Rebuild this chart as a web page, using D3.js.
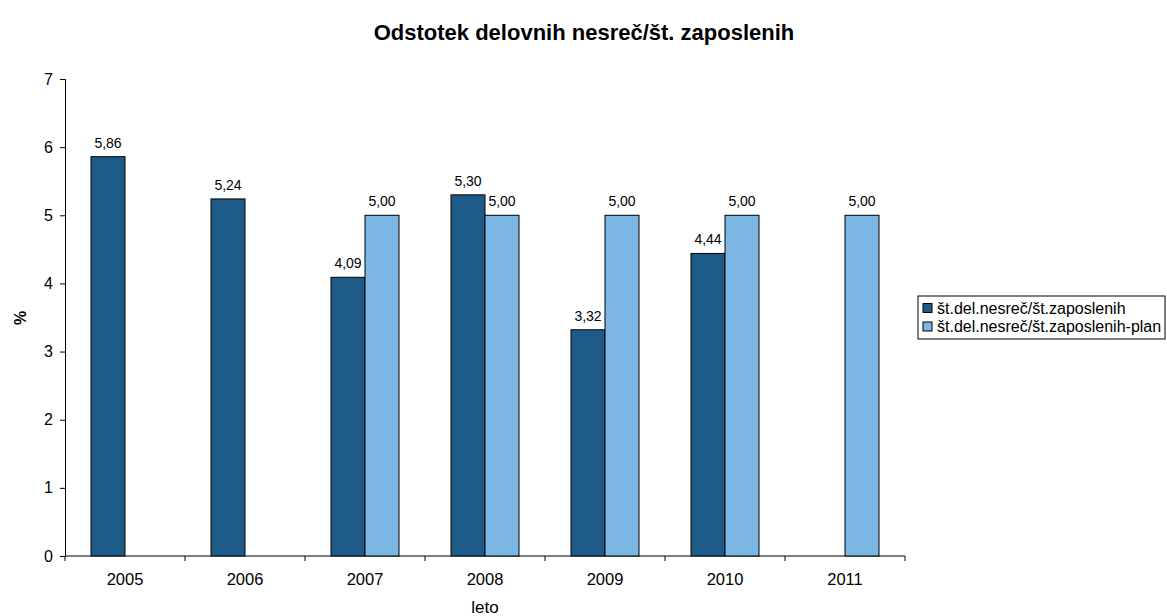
<!DOCTYPE html>
<html>
<head>
<meta charset="utf-8">
<script src="https://cdn.jsdelivr.net/npm/d3@7"></script>
<style>
  body { margin: 0; background: #fff; }
  svg { display: block; font-family: "Liberation Sans", Arial, sans-serif; }
</style>
</head>
<body>
<svg id="chart" width="1167" height="616"></svg>
<script>
// Chart data
const years = ["2005", "2006", "2007", "2008", "2009", "2010", "2011"];
const actual = [5.86, 5.24, 4.09, 5.30, 3.32, 4.44, null];
const plan = [null, null, 5.00, 5.00, 5.00, 5.00, 5.00];
const seriesNames = ["št.del.nesreč/št.zaposlenih", "št.del.nesreč/št.zaposlenih-plan"];
const seriesColors = ["#1f5b89", "#7db7e3"];
const yTicks = [0, 1, 2, 3, 4, 5, 6, 7];

const svg = d3.select("#chart");
const margin = { left: 65, right: 262, top: 79, bottom: 60 };
const W = 1167, H = 616;

const x = d3.scaleBand().domain(years).range([margin.left, W - margin.right]);
const sub = d3.scaleBand().domain([0, 1]).range([0, 68]);
const y = d3.scaleLinear().domain([0, 7]).range([H - margin.bottom, margin.top]);

// Title
svg.append("text")
  .attr("x", 584).attr("y", 40)
  .attr("text-anchor", "middle")
  .attr("font-size", 22).attr("font-weight", "bold")
  .text("Odstotek delovnih nesreč/št. zaposlenih");

// Y axis
const yAxis = svg.append("g")
  .attr("transform", `translate(${margin.left},0)`)
  .call(d3.axisLeft(y).tickValues(yTicks).tickSize(5).tickPadding(7).tickFormat(d3.format("d")));
yAxis.selectAll("text").attr("font-size", 16).attr("font-family", "Liberation Sans, Arial, sans-serif").attr("fill", "#000");
yAxis.selectAll("line, path").attr("stroke", "#000");

// X axis with ticks between categories
const xAxisG = svg.append("g").attr("transform", `translate(0,${y(0)})`);
xAxisG.append("line")
  .attr("x1", margin.left).attr("x2", W - margin.right)
  .attr("stroke", "#000");
const bounds = years.map(d => x(d)).concat([x(years[years.length - 1]) + x.bandwidth()]);
xAxisG.selectAll("line.tick").data(bounds).enter().append("line")
  .attr("class", "tick")
  .attr("x1", d => d).attr("x2", d => d)
  .attr("y1", 0).attr("y2", 5).attr("stroke", "#000");
xAxisG.selectAll("text").data(years).enter().append("text")
  .attr("x", d => x(d) + x.bandwidth() / 2)
  .attr("y", 29)
  .attr("text-anchor", "middle")
  .attr("font-size", 16.5)
  .text(d => d);

// Axis titles
svg.append("text")
  .attr("transform", "translate(26,318) rotate(-90)")
  .attr("text-anchor", "middle")
  .attr("font-size", 16).attr("font-weight", "bold")
  .text("%");
svg.append("text")
  .attr("x", 485).attr("y", 613)
  .attr("text-anchor", "middle")
  .attr("font-size", 17)
  .text("leto");

// Bars with value labels
const fmt = v => v.toFixed(2).replace(".", ",");
[actual, plan].forEach((vals, si) => {
  const data = years.map((yr, i) => ({ yr, v: vals[i] })).filter(d => d.v != null);
  const offset = x.bandwidth() / 2 - 34;
  svg.append("g").selectAll("rect").data(data).enter().append("rect")
    .attr("x", d => x(d.yr) + offset + sub(si))
    .attr("y", d => y(d.v))
    .attr("width", sub.bandwidth())
    .attr("height", d => y(0) - y(d.v))
    .attr("fill", seriesColors[si])
    .attr("stroke", "#000").attr("stroke-width", 1);
  svg.append("g").selectAll("text").data(data).enter().append("text")
    .attr("x", d => x(d.yr) + offset + sub(si) + sub.bandwidth() / 2)
    .attr("y", d => y(d.v) - 9)
    .attr("text-anchor", "middle")
    .attr("font-size", 14)
    .text(d => fmt(d.v));
});

// Legend
const lg = svg.append("g").attr("transform", "translate(918,296)");
lg.append("rect").attr("width", 247).attr("height", 43)
  .attr("fill", "#fff").attr("stroke", "#000");
seriesNames.forEach((n, i) => {
  const row = lg.append("g").attr("transform", `translate(5,${11.5 + i * 18.5})`);
  row.append("rect").attr("x", 0).attr("y", -4).attr("width", 9).attr("height", 9)
    .attr("fill", seriesColors[i]).attr("stroke", "#000");
  row.append("text").attr("x", 14).attr("y", 6)
    .attr("font-size", 16).text(n);
});
</script>
</body>
</html>
